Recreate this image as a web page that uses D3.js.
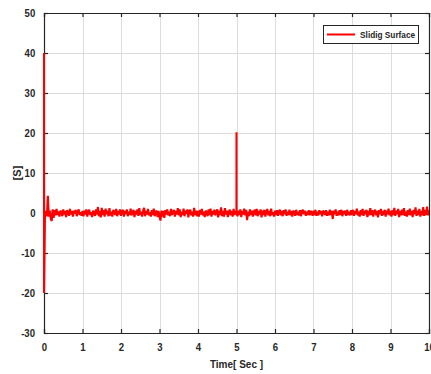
<!DOCTYPE html>
<html><head><meta charset="utf-8">
<script src="https://d3js.org/d3.v7.min.js"></script>
<style>
body{margin:0;background:#fff;}
text{font-family:"Liberation Sans",Arial,sans-serif;font-weight:bold;fill:#262626;}
text.narrow{transform-box:fill-box;transform-origin:center;transform:scaleX(0.87);}
</style></head>
<body>
<script>
const xTicks = [0,1,2,3,4,5,6,7,8,9,10];
const yTicks = [-30,-20,-10,0,10,20,30,40,50];
const xLabel = "Time[ Sec ]";
const yLabel = "[S]";
const seriesName = "Slidig Surface";
const sampleStep = 0.025;
// extra (off-grid) points of the transients
const transientT = [0.001, 4.999, 5.001];
const transientV = [-20, 0.3, 0.3];
const sValues = [
40,-0.6,0.5,-0.8,4.3,-0.9,0.6,-1.4,-2.0,0.9,-1.2,0.7,-0.6,1.0,-0.5,0.4,-0.9,0.6,0.2,-0.8,0.9,-0.4,0.5,-1.0,0.7,0.1,-0.7,1.0,-0.4,0.5,-0.9,0.6,-0.2,0.8,-0.8,0.3,0.9,-0.5,0.2,-0.7,
0.5,-0.8,0.6,-0.4,0.9,-0.9,0.3,0.8,-0.5,0.2,-1.0,0.6,0.0,-0.7,0.9,-0.4,1.5,-0.8,0.5,-1.1,1.3,-0.5,0.7,-0.9,1.1,-0.3,0.6,-0.8,1.2,-0.6,0.3,-0.9,0.8,0.2,-0.5,1.0,-0.8,0.5,-0.4,0.9,
-0.7,0.3,0.8,-0.9,0.5,-0.2,0.9,-0.8,0.3,-0.5,1.1,-0.6,0.2,0.8,-1.0,0.5,-0.4,0.9,-0.7,1.2,-0.5,0.3,-0.9,0.6,1.3,-0.8,0.5,-0.4,1.0,-0.6,0.2,-0.9,0.7,-0.5,1.1,-0.8,0.3,0.6,-1.0,0.5,
-0.8,-1.9,0.6,-0.9,0.5,-1.2,0.7,-0.4,0.9,-0.6,0.3,-0.8,1.0,-0.5,0.2,0.8,-0.9,0.5,-0.4,1.2,-0.6,0.9,-1.0,0.3,-0.5,1.1,-0.8,0.6,-0.2,0.9,-1.1,0.5,0.8,-0.6,0.3,-0.9,1.3,-0.5,0.6,-0.8,
0.5,-0.9,0.8,-0.4,1.0,-0.6,0.3,-1.0,0.6,0.2,-0.8,0.9,-0.5,1.1,-0.9,0.5,-0.4,0.8,-0.6,0.3,0.9,-1.1,0.6,-0.5,1.4,-0.8,0.5,-0.9,1.2,-0.4,0.6,-1.0,0.3,0.8,-0.6,0.5,-0.9,1.0,-0.5,0.3,
20.2,-0.8,0.6,-0.5,0.9,-1.0,0.5,-0.4,1.1,-0.6,0.8,-1.8,0.3,-0.8,0.9,-0.5,0.6,-0.9,0.3,0.8,-0.6,1.0,-0.8,0.5,-0.4,0.9,-1.1,0.6,-0.5,0.8,-0.9,0.3,1.0,-0.6,0.5,-0.8,1.1,-0.5,0.2,-0.9,
0.6,-0.5,0.7,-0.7,0.3,0.8,-0.6,0.5,-0.8,0.7,-0.3,0.9,-0.7,0.3,-0.5,0.8,-0.6,0.5,-0.9,0.6,0.2,-0.7,0.8,-0.5,0.3,-0.6,0.7,-0.8,0.5,0.8,-0.3,0.6,-0.7,0.3,-0.5,0.7,-0.6,0.5,0.2,-0.7,
0.6,-0.5,0.8,-0.7,0.3,-0.6,0.7,-0.3,0.5,-0.8,0.6,0.2,-0.5,0.7,-0.7,0.3,-0.6,0.8,-0.5,0.5,-1.5,0.6,-0.3,0.9,-0.7,0.3,-0.6,0.7,-0.5,0.8,-0.8,0.5,-0.3,0.6,-0.7,0.8,-0.5,0.3,-0.6,0.7,
-0.5,0.8,-0.7,0.5,-0.3,1.1,-0.6,0.3,-0.9,0.7,-0.5,1.0,-0.7,0.6,-0.3,0.8,-1.0,0.5,-0.6,1.2,-0.5,0.7,-0.9,0.3,0.8,-0.6,0.5,-1.1,0.7,-0.3,1.0,-0.7,0.5,-0.5,0.8,-0.9,0.6,-0.3,1.1,-0.6,
0.5,-0.9,0.7,-0.5,1.3,-0.7,0.6,-0.3,1.0,-1.0,0.5,-0.6,0.8,-0.5,1.2,-0.7,0.3,-0.9,0.7,-0.5,1.1,-0.6,0.5,-1.0,0.8,-0.3,1.4,-0.7,0.6,-0.5,1.0,-0.9,0.5,-0.6,1.5,-0.7,0.8,-0.5,1.6,-0.6,0.7
];

const W = 431, H = 374;
const m = {left:44, top:13, right:2, bottom:41};
const svg = d3.select("body").append("svg").attr("width",W).attr("height",H);
const x = d3.scaleLinear().domain([0,10]).range([m.left, W-m.right]);
const y = d3.scaleLinear().domain([-30,50]).range([H-m.bottom, m.top]);

svg.append("rect").attr("x",m.left).attr("y",m.top).attr("width",W-m.left-m.right).attr("height",H-m.top-m.bottom).attr("fill","#fff");

// grid
const g = svg.append("g");
g.selectAll(".gx").data(xTicks.slice(1,-1)).join("line")
  .attr("x1",d=>Math.round(x(d))+0.5).attr("x2",d=>Math.round(x(d))+0.5)
  .attr("y1",m.top).attr("y2",H-m.bottom).attr("stroke","#dcdcdc").attr("stroke-width",1);
g.selectAll(".gy").data(yTicks.slice(1,-1)).join("line")
  .attr("y1",d=>Math.round(y(d))+0.5).attr("y2",d=>Math.round(y(d))+0.5)
  .attr("x1",m.left).attr("x2",W-m.right).attr("stroke","#dcdcdc").attr("stroke-width",1);

// axes
const tl = -4;
const fmt = d => String(d);
const axB = svg.append("g").attr("transform",`translate(0,${H-m.bottom})`)
  .call(d3.axisBottom(x).tickValues(xTicks).tickSize(tl).tickPadding(10).tickFormat(fmt));
const axT = svg.append("g").attr("transform",`translate(0,${m.top})`)
  .call(d3.axisTop(x).tickValues(xTicks).tickSize(tl).tickFormat(""));
const axL = svg.append("g").attr("transform",`translate(${m.left},0)`)
  .call(d3.axisLeft(y).tickValues(yTicks).tickSize(tl).tickPadding(8).tickFormat(fmt));
const axR = svg.append("g").attr("transform",`translate(${W-m.right},0)`)
  .call(d3.axisRight(y).tickValues(yTicks).tickSize(tl).tickFormat(""));
[axB,axT,axL,axR].forEach(a=>{
  a.select(".domain").attr("stroke","#262626").attr("stroke-width",1.2);
  a.selectAll(".tick line").attr("stroke","#262626").attr("stroke-width",1.2);
  a.selectAll("text").attr("class","narrow").attr("font-size",11).attr("font-family",null).attr("fill","#262626");
});

// data line
const pts = sValues.map((v,i)=>({t:i*sampleStep, v}))
  .concat(transientT.map((t,i)=>({t, v:transientV[i]})))
  .filter(d=>d.t<=10+1e-9)
  .sort((a,b)=>a.t-b.t);
svg.append("defs").append("clipPath").attr("id","clip").append("rect")
  .attr("x",m.left-1.5).attr("y",m.top).attr("width",W-m.left-m.right+1.5).attr("height",H-m.top-m.bottom);
svg.append("path").datum(pts).attr("clip-path","url(#clip)")
  .attr("fill","none").attr("stroke","#ff0000").attr("stroke-width",2.1).attr("stroke-linejoin","bevel")
  .attr("d", d3.line().x(d=>x(d.t)).y(d=>y(d.v)));

// axis labels
svg.append("text").attr("class","narrow").attr("x",(x(0)+x(10))/2).attr("y",368).attr("text-anchor","middle")
  .attr("font-size",11.5).text(xLabel);
svg.append("g").attr("transform",`translate(21,${y(10)}) rotate(-90)`)
  .append("text").attr("text-anchor","middle").attr("font-size",11).text(yLabel);

// legend
const lg = svg.append("g");
lg.append("rect").attr("x",323.5).attr("y",25.5).attr("width",95).attr("height",18)
  .attr("fill","#fff").attr("stroke","#262626").attr("stroke-width",1);
lg.append("line").attr("x1",327).attr("x2",355).attr("y1",34.5).attr("y2",34.5)
  .attr("stroke","#ff0000").attr("stroke-width",2);
lg.append("text").attr("class","narrow").attr("x",356).attr("y",38).attr("font-size",9.5).text(seriesName);
</script>
</body></html>
